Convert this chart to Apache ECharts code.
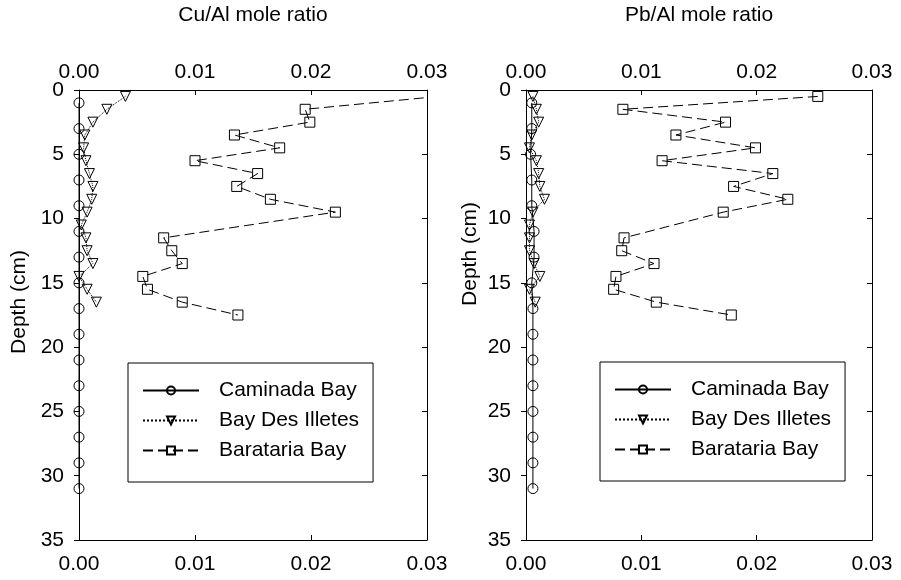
<!DOCTYPE html>
<html>
<head>
<meta charset="utf-8">
<script src="https://cdn.jsdelivr.net/npm/echarts@6/dist/echarts.min.js"></script>
<style>
  html, body { margin: 0; background: #fff; }
  #chart { width: 901px; height: 580px; }
</style>
</head>
<body>
<div id="chart"></div>
<script>
// series names and tick labels
var seriesNames = ["Caminada Bay", "Bay Des Illetes", "Barataria Bay"];
var panelTitles = ["Cu/Al mole ratio", "Pb/Al mole ratio"];
var xTickLabels = ["0.00", "0.01", "0.02", "0.03"];
var depthTickLabels = ["0", "5", "10", "15", "20", "25", "30", "35"];

// depths (cm)
var caminadaDepth = [1, 3, 5, 7, 9, 11, 13, 15, 17, 19, 21, 23, 25, 27, 29, 31];
var illetesDepth = [0.5, 1.5, 2.5, 3.5, 4.5, 5.5, 6.5, 7.5, 8.5, 9.5, 10.5, 11.5, 12.5, 13.5, 14.5, 15.5, 16.5];
var baratariaDepth = [0.5, 1.5, 2.5, 3.5, 4.5, 5.5, 6.5, 7.5, 8.5, 9.5, 11.5, 12.5, 13.5, 14.5, 15.5, 16.5, 17.5];

// Cu/Al
var cuCaminada = [0.0000, 0.0000, 0.0000, 0.0000, 0.0000, 0.0000, 0.0000, 0.0000, 0.0000, 0.0000, 0.0000, 0.0000, 0.0000, 0.0000, 0.0000, 0.0000];
var cuIlletes = [0.0040, 0.0024, 0.0012, 0.0005, 0.0004, 0.0006, 0.0009, 0.0012, 0.0011, 0.0007, 0.0002, 0.0006, 0.0007, 0.0012, 0.0000, 0.0007, 0.0015];
var cuBarataria = [0.0310, 0.0195, 0.0199, 0.0134, 0.0173, 0.0100, 0.0154, 0.0136, 0.0165, 0.0221, 0.0073, 0.0080, 0.0089, 0.0055, 0.0059, 0.0089, 0.0137];

// Pb/Al
var pbCaminada = [0.0005, 0.0005, 0.0004, 0.0005, 0.0005, 0.0007, 0.0007, 0.0005, 0.0006, 0.0006, 0.0006, 0.0006, 0.0006, 0.0006, 0.0006, 0.0006];
var pbIlletes = [0.0006, 0.0009, 0.0011, 0.0005, 0.0003, 0.0009, 0.0011, 0.0012, 0.0016, 0.0006, 0.0003, 0.0003, 0.0003, 0.0007, 0.0012, 0.0003, 0.0008];
var pbBarataria = [0.0253, 0.0084, 0.0173, 0.0130, 0.0199, 0.0118, 0.0214, 0.0180, 0.0227, 0.0171, 0.0085, 0.0083, 0.0111, 0.0078, 0.0076, 0.0113, 0.0178];

var font = "'Liberation Sans', Arial, sans-serif";
var black = "#000";

function pairs(vals, depths) {
  return vals.map(function (v, i) { return [v, depths[i]]; });
}

var triangleDown = "path://M0,0 L10,0 L5,9 Z";
var lineTypes = ["solid", "dotted", [10, 5]];
var symbols = ["circle", triangleDown, "rect"];
var symbolSizes = [10, 10, 10];

var grids = [
  { left: 79, top: 82, width: 348, height: 458 },
  { left: 526, top: 82, width: 346, height: 458 }
];

var xAxes = [];
var yAxes = [];
[0, 1].forEach(function (g) {
  ["bottom", "top"].forEach(function (pos) {
    xAxes.push({
      type: "value",
      gridIndex: g,
      position: pos,
      min: 0,
      max: 0.03,
      interval: 0.01,
      name: pos === "top" ? panelTitles[g] : "",
      nameLocation: "middle",
      nameGap: 64,
      nameTextStyle: { fontFamily: font, fontSize: 21, color: black },
      splitLine: { show: false },
      axisLine: { show: true, onZero: false, lineStyle: { color: black, width: 1 } },
      axisTick: { show: true, inside: true, length: 5, lineStyle: { color: black } },
      axisLabel: {
        fontFamily: font, fontSize: 21, color: black, margin: pos === "top" ? 7 : 14,
        formatter: function (v, i) { return xTickLabels[i]; }
      }
    });
  });
  ["left", "right"].forEach(function (pos) {
    yAxes.push({
      type: "value",
      gridIndex: g,
      position: pos,
      inverse: true,
      min: 0,
      max: 35,
      interval: 5,
      splitLine: { show: false },
      axisLine: { show: true, onZero: false, lineStyle: { color: black, width: 1 } },
      axisTick: { show: true, inside: pos === "right", length: 5, lineStyle: { color: black } },
      axisLabel: {
        show: pos === "left",
        fontFamily: font, fontSize: 21, color: black, margin: 15,
        formatter: function (v, i) { return depthTickLabels[i]; }
      }
    });
  });
});

var panelData = [
  [pairs(cuCaminada, caminadaDepth), pairs(cuIlletes, illetesDepth), pairs(cuBarataria, baratariaDepth)],
  [pairs(pbCaminada, caminadaDepth), pairs(pbIlletes, illetesDepth), pairs(pbBarataria, baratariaDepth)]
];

var series = [];
[0, 1].forEach(function (g) {
  seriesNames.forEach(function (name, k) {
    series.push({
      name: name,
      type: "line",
      xAxisIndex: g * 2,
      yAxisIndex: g * 2,
      data: panelData[g][k],
      symbol: symbols[k],
      symbolSize: symbolSizes[k],
      showAllSymbol: true,
      clip: true,
      animation: false,
      lineStyle: { color: black, width: 1, type: lineTypes[k] },
      itemStyle: { color: "rgba(0,0,0,0)", borderColor: black, borderWidth: 1 }
    });
  });
});

function legendAt(left, top) {
  return {
    orient: "vertical",
    left: left,
    top: top,
    data: seriesNames,
    itemWidth: 56,
    itemHeight: 10,
    itemGap: 9,
    padding: [17, 14, 21, 14],
    borderColor: black,
    borderWidth: 1,
    selectedMode: false,
    textStyle: { fontFamily: font, fontSize: 21, color: black, padding: [0, 0, 0, 15] }
  };
}

var chart = echarts.init(document.getElementById("chart"), null, { renderer: "canvas" });
chart.setOption({
  backgroundColor: "#fff",
  animation: false,
  grid: grids,
  xAxis: xAxes,
  yAxis: yAxes,
  legend: [legendAt(128, 363), legendAt(600, 362)],
  series: series,
  graphic: [
    { type: "text", x: 19, y: 302, rotation: Math.PI / 2,
      style: { text: "Depth (cm)", font: "21px " + font, fill: black, textAlign: "center", textVerticalAlign: "middle" } },
    { type: "text", x: 470, y: 254, rotation: Math.PI / 2,
      style: { text: "Depth (cm)", font: "21px " + font, fill: black, textAlign: "center", textVerticalAlign: "middle" } }
  ]
});
</script>
</body>
</html>
